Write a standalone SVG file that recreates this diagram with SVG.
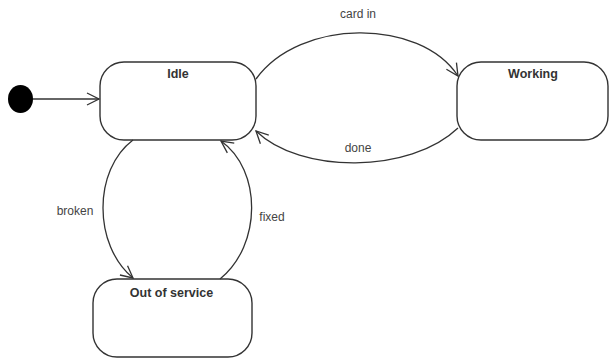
<svg xmlns="http://www.w3.org/2000/svg" width="611" height="361" viewBox="0 0 611 361">
<style>
.state{fill:#fff;stroke:#333;stroke-width:1.4}
.title{font-family:"Liberation Sans",Arial,sans-serif;font-size:12.5px;font-weight:bold;fill:#333;text-anchor:middle}
.lbl{font-family:"Liberation Sans",Arial,sans-serif;font-size:12px;fill:#444;text-anchor:middle}
.edge{fill:none;stroke:#333;stroke-width:1.3;marker-end:url(#arr)}
</style>
<defs>
<marker id="arr" markerUnits="userSpaceOnUse" markerWidth="16" markerHeight="16" viewBox="-13 -8 16 16" refX="0" refY="0" orient="auto">
<path d="M-12,-6 L0,0 L-12,6" fill="none" stroke="#333" stroke-width="1.3"/>
</marker>
</defs>
<rect width="611" height="361" fill="#fff"/>
<g id="initial"><ellipse cx="20.5" cy="99" rx="12.5" ry="14" fill="#000"/></g>
<g id="idle"><rect class="state" x="100" y="62" width="156" height="78" rx="24"/><text class="title" x="178" y="78">Idle</text></g>
<g id="working"><rect class="state" x="457" y="62" width="151" height="78" rx="24"/><text class="title" x="533" y="78">Working</text></g>
<g id="outofservice"><rect class="state" x="93" y="279" width="159" height="78" rx="24"/><text class="title" x="171.5" y="297">Out of service</text></g>
<g id="connectors">
<path class="edge" d="M33,99 L99,99"/>
<path class="edge" d="M256,79 C300,18 420,18 458,76"/>
<path class="edge" d="M458,128 C410,174 300,174 256,131"/>
<path class="edge" d="M133,140 C93,170 93,245 133,278"/>
<path class="edge" d="M220,279 C262,245 262,170 221,141"/>
<text class="lbl" x="358" y="18">card in</text>
<text class="lbl" x="358" y="152">done</text>
<text class="lbl" x="75" y="215">broken</text>
<text class="lbl" x="272" y="221">fixed</text>
</g>
</svg>
